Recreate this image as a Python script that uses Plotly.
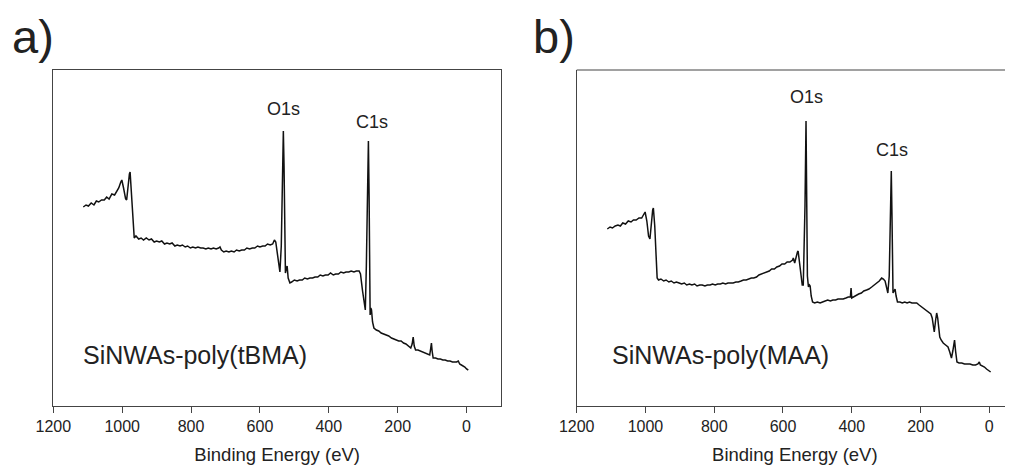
import plotly.graph_objects as go

# Panel a: SiNWAs-poly(tBMA) survey spectrum (binding energy eV, intensity a.u.)
be_a = [1113, 1105, 1098, 1090, 1082, 1075, 1068, 1060, 1052, 1045, 1038, 1030, 1022, 1016, 1010, 1004,
        1001, 996, 990, 987, 983, 979, 977, 973, 968, 965, 960, 952, 945, 938, 930, 922, 915, 907, 900,
        892, 885, 877, 870, 862, 855, 847, 840, 832, 825, 817, 810, 802, 795, 787, 780, 772, 765, 757,
        750, 742, 735, 727, 720, 716, 712, 705, 698, 690, 683, 675, 668, 660, 653, 645, 638, 630, 622,
        615, 607, 600, 592, 585, 578, 570, 563, 558, 554, 549, 545, 542, 538, 534, 532, 530, 528, 526,
        523, 521, 518, 513, 508, 500, 492, 485, 477, 470, 462, 455, 447, 440, 432, 425, 417, 410, 402,
        395, 387, 380, 372, 365, 357, 350, 342, 335, 327, 320, 312, 308, 302, 297, 294, 291, 288, 285,
        283, 281, 280, 278, 276, 273, 269, 262, 255, 248, 240, 233, 226, 218, 211, 204, 197, 190, 183,
        176, 168, 162, 158, 155, 152, 148, 141, 134, 127, 120, 113, 107, 104, 102, 100, 97, 90, 83, 76,
        69, 62, 55, 48, 41, 34, 29, 24, 20, 15, 10, 5, 0, -5]
int_a = [199, 201, 200, 203, 201, 205, 204, 206, 206, 209, 207, 212, 211, 214, 218, 224,
         226, 218, 207, 206, 222, 232, 234, 210, 185, 168, 170, 167, 168, 166, 168, 166, 167, 164, 165,
         164, 165, 162, 163, 162, 163, 160, 161, 160, 161, 159, 160, 158, 159, 158, 159, 158, 158, 157,
         158, 157, 158, 157, 158, 159, 156, 154, 155, 154, 155, 154, 156, 155, 156, 156, 158, 157, 158,
         158, 160, 159, 160, 160, 162, 161, 162, 166, 164, 152, 138, 134, 160, 250, 275, 240, 150, 133,
         138, 140, 128, 123, 124, 126, 125, 126, 126, 128, 127, 128, 128, 129, 129, 131, 130, 131, 131,
         133, 131, 132, 132, 134, 133, 134, 134, 135, 134, 135, 135, 132, 115, 100, 96, 140, 230, 265,
         210, 110, 91, 98, 96, 84, 78, 76, 75, 73, 72, 71, 70, 68, 67, 66, 65, 65, 63,
         62, 60, 58, 62, 69, 60, 56, 56, 55, 54, 53, 52, 51, 58, 63, 55, 48, 48, 47, 47,
         46, 46, 45, 45, 44, 44, 44, 45, 42, 41, 40, 39, 37, 36]

# Panel b: SiNWAs-poly(MAA) survey spectrum
be_b = [1111, 1103, 1096, 1088, 1080, 1073, 1066, 1058, 1050, 1042, 1035, 1027, 1019, 1011, 1006, 1001,
        996, 991, 987, 983, 979, 977, 973, 969, 966, 962, 955, 947, 940, 932, 925, 917, 910, 902, 895,
        887, 880, 872, 865, 857, 850, 842, 835, 827, 820, 812, 805, 797, 790, 782, 775, 767, 760, 752,
        745, 737, 730, 722, 715, 707, 700, 692, 685, 677, 670, 662, 655, 648, 640, 633, 625, 618, 610,
        603, 595, 588, 580, 572, 570, 566, 562, 558, 556, 552, 548, 544, 541, 536, 533, 531, 529, 526,
        523, 521, 518, 514, 508, 500, 492, 485, 477, 470, 462, 455, 447, 440, 432, 425, 417, 410, 404,
        402, 400, 395, 387, 380, 372, 365, 357, 350, 342, 335, 327, 320, 313, 308, 303, 298, 295, 291,
        287, 285, 283, 280, 277, 274, 271, 267, 260, 253, 246, 239, 232, 225, 218, 211, 204, 197, 190,
        183, 176, 170, 166, 163, 160, 156, 153, 150, 147, 144, 140, 134, 127, 120, 115, 110, 106, 103,
        101, 98, 94, 88, 80, 72, 64, 56, 48, 40, 33, 29, 26, 20, 14, 8, 2, -4]
int_b = [177, 179, 178, 180, 181, 180, 183, 182, 185, 184, 186, 186, 188, 188, 191, 194,
         185, 170, 167, 185, 196, 198, 180, 150, 128, 126, 127, 125, 126, 124, 125, 123, 124, 123, 122,
         123, 121, 122, 121, 122, 120, 121, 121, 120, 121, 121, 122, 121, 122, 122, 123, 122, 123, 123,
         123, 124, 124, 125, 126, 126, 127, 128, 128, 129, 131, 132, 133, 134, 135, 137, 137, 139, 140,
         142, 142, 144, 144, 146, 148, 143, 150, 154, 155, 145, 130, 121, 121, 200, 285, 230, 130, 119,
         121, 120, 110, 104, 103, 104, 103, 104, 105, 106, 105, 106, 106, 107, 107, 107, 108, 109, 109,
         118, 108, 109, 111, 112, 113, 115, 116, 117, 119, 121, 123, 125, 128, 127, 125, 118, 113, 130,
         200, 235, 190, 113, 115, 117, 110, 104, 104, 103, 104, 103, 104, 103, 103, 103, 101, 99, 97,
         95, 93, 92, 88, 78, 74, 86, 93, 88, 74, 69, 66, 63, 61, 59, 54, 48, 55, 64,
         66, 55, 44, 43, 43, 42, 42, 42, 41, 41, 42, 44, 41, 40, 39, 37, 35, 34]

tick_vals = [1200, 1000, 800, 600, 400, 200, 0]
tick_text = ["1200", "1000", "800", "600", "400", "200", "0"]
sample_labels = ["SiNWAs-poly(tBMA)", "SiNWAs-poly(MAA)"]
panel_labels = ["a)", "b)"]
peak_labels = ["O1s", "C1s"]

FONT = "Liberation Sans, Arial, sans-serif"
TXT = "#222222"
AX = "#444444"

# page body adds an 8px margin, so the figure is 8px smaller and everything is shifted by -8px
OFF = 8
W, H = 1013 - OFF, 465 - OFF
top, bottom = 70 - OFF, 406 - OFF

fig = go.Figure()
fig.add_trace(go.Scatter(x=be_a, y=int_a, mode="lines", line=dict(color="#111111", width=1.5),
                         xaxis="x", yaxis="y", showlegend=False, hoverinfo="skip"))
fig.add_trace(go.Scatter(x=be_b, y=int_b, mode="lines", line=dict(color="#111111", width=1.5),
                         xaxis="x2", yaxis="y2", showlegend=False, hoverinfo="skip"))

def xaxis_common(domain, rng, mirror, anchor):
    return dict(domain=domain, range=rng, anchor=anchor, tickmode="array", tickvals=tick_vals,
                ticktext=tick_text, automargin=False,
                ticks="outside", ticklen=6, tickwidth=1.2, tickcolor=AX,
                showline=True, linecolor=AX, linewidth=1.2, mirror=mirror,
                showgrid=False, zeroline=False,
                tickfont=dict(family=FONT, size=16, color=TXT),
                title=dict(text="Binding Energy (eV)", font=dict(family=FONT, size=18.5, color=TXT),
                           standoff=13))

def yaxis_common(anchor, mirror):
    return dict(domain=[0, 1], range=[0, 336], anchor=anchor, showticklabels=False, ticks="",
                automargin=False,
                showline=True, linecolor=AX, linewidth=1.2, mirror=mirror,
                showgrid=False, zeroline=False)

fig.update_layout(
    template="none",
    width=W, height=H,
    margin=dict(l=0, r=0, t=top, b=H - bottom, pad=0, autoexpand=False),
    paper_bgcolor="white", plot_bgcolor="white",
    xaxis=xaxis_common([(53.3 - OFF) / W, (501 - OFF) / W], [1200, -100], True, "y"),
    yaxis=yaxis_common("x", True),
    xaxis2=xaxis_common([(576.7 - OFF) / W, 1.0], [1200, -69], False, "y2"),
    yaxis2=yaxis_common("x2", False),
)

# top border for panel b (no right edge visible)
fig.add_shape(type="line", xref="x2 domain", yref="y2 domain", x0=0, x1=1, y0=1, y1=1,
              line=dict(color=AX, width=1.2))

ann = []
ann.append(dict(x=532, y=297, xref="x", yref="y", text=peak_labels[0]))
ann.append(dict(x=274, y=284, xref="x", yref="y", text=peak_labels[1]))
ann.append(dict(x=531, y=309, xref="x2", yref="y2", text=peak_labels[0]))
ann.append(dict(x=282, y=256, xref="x2", yref="y2", text=peak_labels[1]))
for a in ann:
    a.update(showarrow=False, font=dict(family=FONT, size=18, color=TXT), xanchor="center", yanchor="middle")

samples = [
    dict(x=1121, y=51, xref="x", yref="y", text=sample_labels[0]),
    dict(x=1103, y=51, xref="x2", yref="y2", text=sample_labels[1]),
]
for a in samples:
    a.update(showarrow=False, font=dict(family=FONT, size=25, color=TXT), xanchor="left", yanchor="middle")

panels = [
    dict(x=(10 - OFF) / W, y=(bottom - (37 - OFF)) / 336, text=panel_labels[0]),
    dict(x=(531 - OFF) / W, y=(bottom - (37 - OFF)) / 336, text=panel_labels[1]),
]
for a in panels:
    a.update(xref="paper", yref="paper", showarrow=False, font=dict(family=FONT, size=47, color=TXT),
             xanchor="left", yanchor="middle")

fig.update_layout(annotations=ann + samples + panels)
fig.write_html("out.html")
